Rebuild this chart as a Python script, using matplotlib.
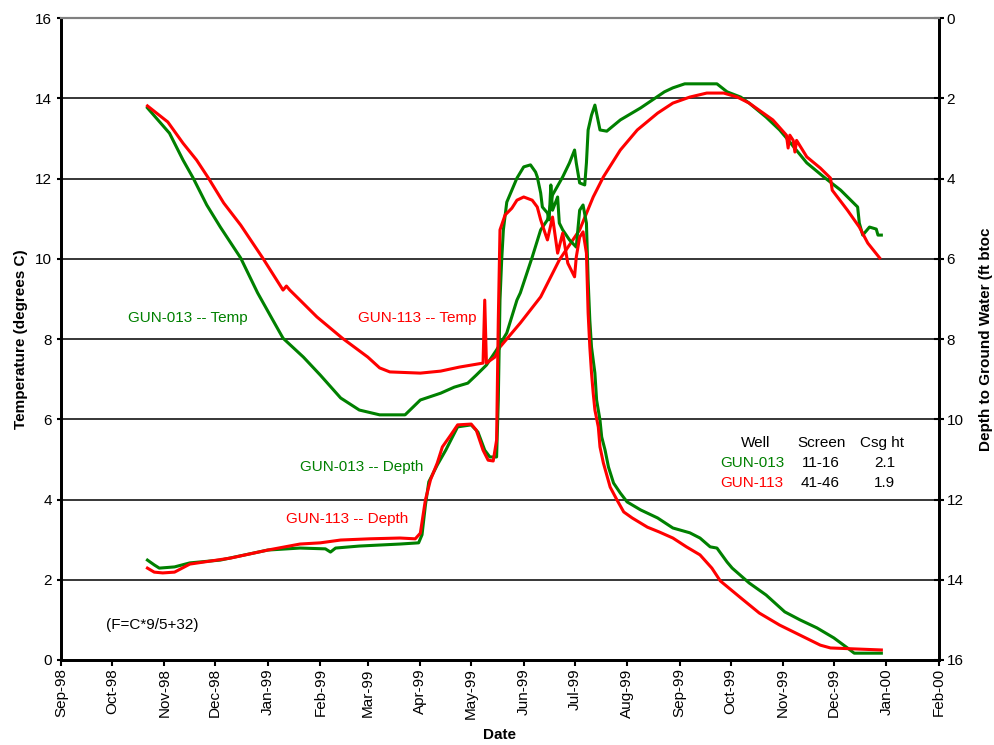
import numpy as np
import pandas as pd
import matplotlib
matplotlib.use('Agg')
import matplotlib.pyplot as plt
import matplotlib.dates as mdates

plt.rcParams['font.family'] = ['Liberation Sans', 'DejaVu Sans']

'''
Data: days counted from 1-Sep-98, temperature in degrees C, depth in ft btoc
'''
start = pd.Timestamp('1998-09-01')

temp013_days = [51, 64, 72, 78, 86, 94, 106, 116, 125, 131, 143, 153, 165, 176, 188, 203,
                212, 224, 232, 240, 245, 251, 257, 263, 269, 271, 278, 283, 287, 290, 296,
                300, 303, 304, 306, 309, 310, 311, 313, 315, 318, 322, 330, 342, 349, 356,
                361, 368, 387, 393, 401, 406, 416, 424, 428, 440, 450, 460, 470, 471, 473,
                477, 481, 482, 484]
temp013 = [13.76, 13.13, 12.46, 12.01, 11.34, 10.79, 10.02, 9.15, 8.47, 8.02, 7.55, 7.10,
           6.53, 6.23, 6.11, 6.11, 6.48, 6.65, 6.80, 6.90, 7.10, 7.35, 7.73, 8.15, 8.97,
           9.15, 10.04, 10.72, 10.97, 11.59, 12.04, 12.39, 12.71, 12.39, 11.89, 11.84,
           12.39, 13.21, 13.58, 13.83, 13.21, 13.18, 13.46, 13.76, 13.96, 14.16, 14.26,
           14.36, 14.36, 14.16, 14.03, 13.88, 13.53, 13.21, 13.01, 12.39, 12.04, 11.71,
           11.29, 10.89, 10.59, 10.79, 10.74, 10.59, 10.59]

temp113_days = [51, 63, 72, 80, 87, 96, 106, 119, 131, 133, 135, 141, 151, 166, 181, 188,
                194, 212, 224, 235, 249, 250, 251, 256, 259, 271, 283, 294, 306, 314, 320,
                330, 340, 352, 361, 371, 381, 391, 399, 406, 420, 428, 429, 430, 432, 433,
                434, 440, 448, 454, 455, 464, 471, 476, 483]
temp113 = [13.81, 13.41, 12.88, 12.46, 12.01, 11.39, 10.84, 10.02, 9.22, 9.32, 9.22, 8.97,
           8.55, 8.02, 7.55, 7.28, 7.18, 7.15, 7.20, 7.30, 7.40, 8.97, 7.40, 7.55, 7.80,
           8.40, 9.05, 9.97, 10.72, 11.54, 12.04, 12.71, 13.21, 13.63, 13.88, 14.03, 14.13,
           14.13, 14.03, 13.88, 13.46, 13.08, 12.76, 13.08, 12.95, 12.66, 12.95, 12.54,
           12.26, 12.01, 11.71, 11.21, 10.79, 10.39, 10.02]

depth013_days = [51, 55, 58, 67, 76, 94, 122, 141, 156, 159, 162, 176, 200, 211, 213, 215,
                 217, 222, 227, 234, 242, 246, 250, 253, 257, 258, 259, 260, 261, 263, 266,
                 269, 273, 277, 280, 281, 283, 284, 287, 288, 289, 290, 293, 294, 296, 300,
                 304, 306, 308, 310, 311, 312, 313, 315, 316, 318, 319, 321, 323, 326, 330,
                 334, 342, 352, 361, 371, 377, 383, 387, 393, 396, 406, 416, 427, 436, 446,
                 456, 464, 468, 484]
depth013 = [13.51, 13.63, 13.71, 13.68, 13.58, 13.51, 13.26, 13.21, 13.23, 13.31, 13.21,
            13.16, 13.11, 13.08, 12.88, 12.14, 11.56, 11.14, 10.77, 10.19, 10.14, 10.32,
            10.77, 10.94, 10.94, 9.52, 7.03, 6.03, 5.28, 4.59, 4.29, 3.99, 3.71, 3.66, 3.84,
            3.96, 4.36, 4.71, 4.86, 5.03, 4.16, 4.79, 4.46, 5.11, 5.28, 5.53, 5.71, 4.79,
            4.66, 5.11, 6.53, 7.53, 8.20, 8.85, 9.52, 10.02, 10.44, 10.77, 11.19, 11.59,
            11.84, 12.06, 12.26, 12.46, 12.71, 12.83, 12.96, 13.18, 13.21, 13.56, 13.71,
            14.08, 14.38, 14.80, 15.00, 15.20, 15.45, 15.70, 15.83, 15.83]

depth113_days = [51, 55, 60, 67, 76, 100, 122, 141, 153, 165, 182, 200, 209, 212, 215, 218,
                 222, 225, 230, 234, 242, 245, 249, 252, 255, 257, 258, 259, 262, 266, 269,
                 273, 278, 281, 283, 286, 287, 290, 293, 296, 299, 303, 304, 306, 308, 310,
                 311, 312, 313, 314, 315, 317, 318, 320, 324, 328, 332, 337, 346, 353, 361,
                 369, 377, 384, 389, 401, 412, 424, 436, 448, 454, 484]
depth113 = [13.71, 13.81, 13.83, 13.81, 13.61, 13.46, 13.26, 13.11, 13.08, 13.01, 12.98,
            12.96, 12.98, 12.84, 12.01, 11.51, 11.09, 10.69, 10.39, 10.14, 10.12, 10.27,
            10.77, 11.02, 11.04, 10.52, 7.53, 5.28, 4.91, 4.74, 4.54, 4.46, 4.54, 4.71,
            5.03, 5.41, 5.53, 4.96, 5.86, 5.36, 6.11, 6.45, 5.96, 5.46, 5.33, 5.86, 7.35,
            8.20, 8.85, 9.35, 9.77, 10.19, 10.69, 11.09, 11.69, 12.01, 12.31, 12.46, 12.69,
            12.81, 12.96, 13.18, 13.38, 13.71, 14.03, 14.45, 14.83, 15.13, 15.38, 15.63,
            15.70, 15.75]

wells = ['GUN-013', 'GUN-113']
screens = ['11-16', '41-46']
csg_ht = ['2.1', '1.9']

green = '#008000'
red = '#ff0000'


def to_dates(days):
    return start + pd.to_timedelta(np.array(days), unit='D')


fig = plt.figure(figsize=(9.95, 7.45), dpi=100)
ax = fig.add_axes([0.0613, 0.1141, 0.8824, 0.8617])
ax2 = ax.twinx()

ax.plot(to_dates(temp013_days), temp013, color=green, lw=2.2)
ax.plot(to_dates(temp113_days), temp113, color=red, lw=2.2)
ax2.plot(to_dates(depth013_days), depth013, color=green, lw=2.2)
ax2.plot(to_dates(depth113_days), depth113, color=red, lw=2.2)

ax.set_ylim(0, 16)
ax.set_yticks(range(0, 17, 2))
ax2.set_ylim(16, 0)
ax2.set_yticks(range(0, 17, 2))
ax.set_xlim(pd.Timestamp('1998-09-01'), pd.Timestamp('2000-02-01'))
ax.xaxis.set_major_locator(mdates.MonthLocator())
ax.xaxis.set_major_formatter(mdates.DateFormatter('%b-%y'))
plt.setp(ax.get_xticklabels(), rotation=90)

for v in range(2, 16, 2):
    ax.axhline(v, color='black', lw=1.1, zorder=0)

# spines
for a in (ax, ax2):
    a.spines['top'].set_color('#808080')
    a.spines['top'].set_linewidth(1.5)
    for s in ('left', 'right', 'bottom'):
        a.spines[s].set_linewidth(2)
        a.spines[s].set_color('black')

ax.tick_params(axis='y', direction='out', length=3, width=1.5, labelsize=11, pad=3.5)
ax.tick_params(axis='x', direction='out', length=4, width=1.5, labelsize=11, pad=2)
ax2.tick_params(axis='y', direction='inout', length=7, width=1.5, labelsize=11, pad=2)

ax.set_xlabel('Date', fontsize=11, fontweight='bold', labelpad=6)
ax.set_ylabel('Temperature (degrees C)', fontsize=11, fontweight='bold', labelpad=5)
ax2.set_ylabel('Depth to Ground Water (ft btoc', fontsize=11, fontweight='bold', labelpad=11)

# series labels
ax.text(0.145, 0.533, 'GUN-013 -- Temp', color=green, fontsize=11,
        ha='center', va='center', transform=ax.transAxes)
ax.text(0.406, 0.533, 'GUN-113 -- Temp', color=red, fontsize=11,
        ha='center', va='center', transform=ax.transAxes)
ax.text(0.343, 0.3006, 'GUN-013 -- Depth', color=green, fontsize=11,
        ha='center', va='center', transform=ax.transAxes)
ax.text(0.326, 0.220, 'GUN-113 -- Depth', color=red, fontsize=11,
        ha='center', va='center', transform=ax.transAxes)
ax.text(0.1037, 0.0545, '(F=C*9/5+32)', color='black', fontsize=11,
        ha='center', va='center', transform=ax.transAxes)

# well table
ax.text(0.7916, 0.3385, 'Well', fontsize=11, ha='center', va='center', transform=ax.transAxes)
ax.text(0.8662, 0.3385, 'Screen', fontsize=11, ha='center', va='center', transform=ax.transAxes)
ax.text(0.9356, 0.3385, 'Csg ht', fontsize=11, ha='center', va='center', transform=ax.transAxes)
rows_y = [0.3073, 0.2762]
for i, (w, sc, cg) in enumerate(zip(wells, screens, csg_ht)):
    col = green if i == 0 else red
    ax.text(0.787, rows_y[i], w, color=col, fontsize=11, ha='center', va='center', transform=ax.transAxes)
    ax.text(0.865, rows_y[i], sc, fontsize=11, ha='center', va='center', transform=ax.transAxes)
    ax.text(0.938, rows_y[i], cg, fontsize=11, ha='center', va='center', transform=ax.transAxes)

fig.savefig('out.png', dpi=100)
